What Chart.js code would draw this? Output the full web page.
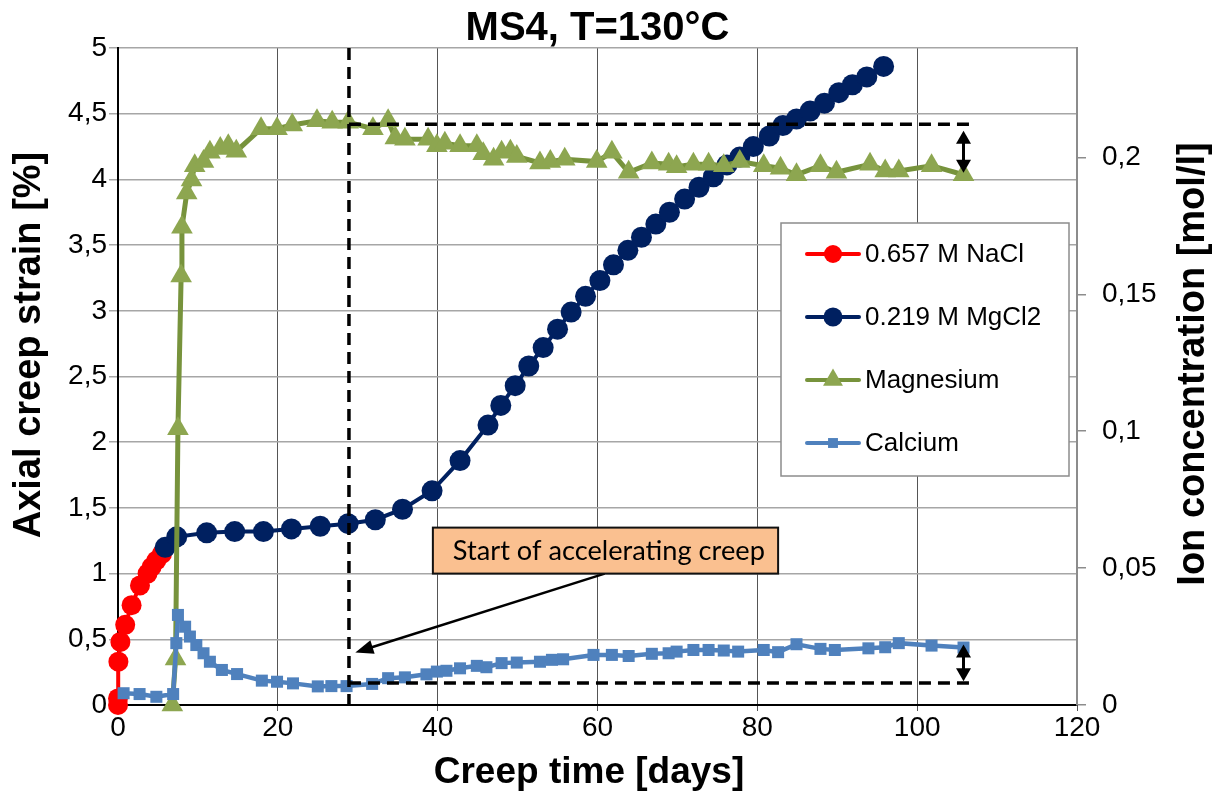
<!DOCTYPE html>
<html>
<head>
<meta charset="utf-8">
<script src="https://cdn.jsdelivr.net/npm/chart.js"></script>
<style>
  html, body { margin: 0; padding: 0; background: #fff; }
</style>
</head>
<body>
<canvas id="chart" width="1222" height="798"></canvas>
<script>
// ---- data ----
const naclDays   = [0, 0, 0.05, 0.3, 0.9, 1.7, 2.75, 3.7, 4.2, 4.8, 5.5];
const naclStrain = [0.0, 0.05, 0.33, 0.48, 0.61, 0.76, 0.91, 1.0, 1.05, 1.10, 1.15];

const mgcl2Days   = [5.9, 7.35, 11.1, 14.6, 18.2, 21.7, 25.3, 28.8, 32.2, 35.6, 39.3, 42.8, 46.3, 47.9, 49.7, 51.4, 53.2, 55.0, 56.7, 58.5,
                     60.3, 62.0, 63.8, 65.5, 67.3, 69.0, 70.9, 72.7, 74.5, 76.2, 77.8, 79.5, 81.5, 83.2, 84.9, 86.6, 88.4, 90.2, 91.9, 93.7, 95.8];
const mgcl2Strain = [1.20, 1.28, 1.31, 1.32, 1.32, 1.34, 1.36, 1.38, 1.41, 1.49, 1.63, 1.86, 2.13, 2.28, 2.43, 2.58, 2.72, 2.86, 2.99, 3.11,
                     3.23, 3.35, 3.46, 3.56, 3.66, 3.75, 3.85, 3.94, 4.02, 4.11, 4.17, 4.25, 4.33, 4.41, 4.46, 4.52, 4.58, 4.66, 4.72, 4.78, 4.86];

const magnesiumDays = [6.8, 7.2, 7.5, 7.9, 8.0, 8.6, 9.2, 9.6, 10.7, 11.5, 12.8, 13.8, 14.8, 17.9, 19.9, 21.8, 24.9, 26.8, 28.8, 31.9,
                       33.8, 34.7, 35.9, 38.8, 39.9, 40.9, 42.8, 44.9, 45.7, 47.0, 48.0, 49.1, 49.9, 52.8, 54.1, 55.9, 59.9, 61.8, 63.9, 66.8,
                       68.9, 69.9, 72.0, 73.9, 75.8, 77.8, 80.8, 82.9, 84.9, 87.9, 89.9, 94.1, 96.0, 97.7, 101.8, 105.8];
const magnesiumConc = [0, 0.0168, 0.1009, 0.1567, 0.1745, 0.187, 0.1918, 0.197, 0.1985, 0.2019, 0.2033, 0.2043, 0.2023, 0.2105, 0.2105, 0.2119, 0.2134, 0.2129, 0.2129, 0.2105,
                       0.2134, 0.2071, 0.2067, 0.2067, 0.2043, 0.2052, 0.2043, 0.2043, 0.2014, 0.1994, 0.2019, 0.2023, 0.2004, 0.198, 0.1985, 0.1994, 0.1985, 0.2019, 0.1946, 0.198,
                       0.1975, 0.1966, 0.1975, 0.1975, 0.197, 0.1985, 0.197, 0.1961, 0.1937, 0.197, 0.1946, 0.1975, 0.1951, 0.1951, 0.197, 0.1937];

const calciumDays = [0.7, 2.7, 4.8, 6.9, 7.3, 7.5, 8.4, 9.0, 9.8, 10.7, 11.5, 13.0, 14.9, 18.0, 19.9, 21.9, 25.0, 26.7, 28.6, 31.8,
                     33.8, 35.9, 38.6, 39.9, 41.1, 42.8, 44.9, 46.1, 48.0, 49.9, 52.8, 54.3, 55.7, 59.5, 61.8, 63.9, 66.8, 68.9, 69.9, 72.0,
                     73.9, 75.8, 77.6, 80.8, 82.6, 84.9, 87.9, 89.7, 93.9, 96.0, 97.7, 101.8, 105.8];
const calciumConc = [0.0043, 0.0040, 0.0030, 0.0040, 0.0226, 0.0329, 0.0286, 0.0250, 0.0219, 0.0189, 0.0158, 0.0128, 0.0113, 0.0089, 0.0085, 0.0079, 0.0068, 0.0069, 0.0069, 0.0077,
                     0.0098, 0.0101, 0.0112, 0.0122, 0.0125, 0.0134, 0.0143, 0.0138, 0.0153, 0.0155, 0.0158, 0.0165, 0.0167, 0.0183, 0.0183, 0.0179, 0.0187, 0.0189, 0.0195, 0.0201,
                     0.0201, 0.0199, 0.0195, 0.0201, 0.0193, 0.0222, 0.0205, 0.0201, 0.0207, 0.0211, 0.0226, 0.0217, 0.0210];

// annotation values (days / strain %)
const onsetDay = 28.9;
const dashEndDay = 107.3;
const mgLevel = 4.42;
const caLevel = 0.167;
const rangeDay = 105.8;
const mgRange = [4.37, 4.05];
const caRange = [0.46, 0.18];
const noteBox = {x1: 39.4, x2: 82.6, y1: 1.35, y2: 1.0};
const noteArrow = {x1: 60.9, y1: 1.0, x2: 29.7, y2: 0.40};
const noteText = 'Start of accelerating creep';

const chartTitle = 'MS4, T=130°C';
const leftTitle = 'Axial creep strain [%]';
const rightTitle = 'Ion concentration [mol/l]';
const bottomTitle = 'Creep time [days]';

function pts(xs, ys){
    return xs.map((v, i) => ({x: v, y: ys[i]}));
}
function comma(v){
    return String(Number(v.toFixed(3))).replace('.', ',');
}

const FONT = "'Liberation Sans', Arial, sans-serif";

/* --------------------------
   ARROWS / LINES / LEGEND
--------------------------- */
function arrowHead(ctx, x1, y1, x2, y2, len, half){
    const a = Math.atan2(y2 - y1, x2 - x1);
    ctx.beginPath();
    ctx.moveTo(x2, y2);
    ctx.lineTo(x2 - len * Math.cos(a) + half * Math.sin(a), y2 - len * Math.sin(a) - half * Math.cos(a));
    ctx.lineTo(x2 - len * Math.cos(a) - half * Math.sin(a), y2 - len * Math.sin(a) + half * Math.cos(a));
    ctx.closePath();
    ctx.fill();
}

function doubleArrow(ctx, px, ya, yb){
    ctx.lineWidth = 3;
    ctx.beginPath();
    ctx.moveTo(px, ya + 8);
    ctx.lineTo(px, yb - 8);
    ctx.stroke();
    arrowHead(ctx, px, yb, px, ya, 13, 7.5);
    arrowHead(ctx, px, ya, px, yb, 13, 7.5);
}

function marker(ctx, style, cx, cy, r, color){
    ctx.fillStyle = color;
    ctx.beginPath();
    if(style === 'circle'){
        ctx.arc(cx, cy, r, 0, Math.PI * 2);
    } else if(style === 'triangle'){
        ctx.moveTo(cx, cy - r);
        ctx.lineTo(cx + r * 0.866, cy + r * 0.5);
        ctx.lineTo(cx - r * 0.866, cy + r * 0.5);
        ctx.closePath();
    } else {
        const s = r * Math.SQRT1_2;
        ctx.rect(cx - s, cy - s, 2 * s, 2 * s);
    }
    ctx.fill();
}

function vText(ctx, text, cx, cy){
    ctx.save();
    ctx.translate(cx, cy);
    ctx.rotate(-Math.PI / 2);
    ctx.fillText(text, 0, 0);
    ctx.restore();
}

const overlay = {
    id: 'overlay',
    afterDatasetsDraw(chart){
        const ctx = chart.ctx, x = chart.scales.x, y = chart.scales.y, a = chart.chartArea;
        ctx.save();

        // dashed guide lines
        ctx.strokeStyle = '#000';
        ctx.lineWidth = 3.5;
        ctx.setLineDash([12, 7]);
        const xo = x.getPixelForValue(onsetDay), xe = x.getPixelForValue(dashEndDay);
        ctx.beginPath();
        ctx.moveTo(xo, a.top); ctx.lineTo(xo, a.bottom);
        ctx.moveTo(xo, y.getPixelForValue(mgLevel)); ctx.lineTo(xe, y.getPixelForValue(mgLevel));
        ctx.moveTo(xo, y.getPixelForValue(caLevel)); ctx.lineTo(xe, y.getPixelForValue(caLevel));
        ctx.stroke();
        ctx.setLineDash([]);

        // double arrows
        ctx.fillStyle = '#000';
        const xr = x.getPixelForValue(rangeDay);
        doubleArrow(ctx, xr, y.getPixelForValue(mgRange[0]), y.getPixelForValue(mgRange[1]));
        doubleArrow(ctx, xr, y.getPixelForValue(caRange[0]), y.getPixelForValue(caRange[1]));

        // note arrow
        const ax1 = x.getPixelForValue(noteArrow.x1), ay1 = y.getPixelForValue(noteArrow.y1);
        const ax2 = x.getPixelForValue(noteArrow.x2), ay2 = y.getPixelForValue(noteArrow.y2);
        ctx.lineWidth = 2.5;
        ctx.beginPath();
        ctx.moveTo(ax1, ay1);
        ctx.lineTo(ax2 + (ax1 - ax2) * 0.05, ay2 + (ay1 - ay2) * 0.05);
        ctx.stroke();
        arrowHead(ctx, ax1, ay1, ax2, ay2, 18, 7);

        // note box
        const bx1 = x.getPixelForValue(noteBox.x1), bx2 = x.getPixelForValue(noteBox.x2);
        const by1 = y.getPixelForValue(noteBox.y1), by2 = y.getPixelForValue(noteBox.y2);
        ctx.fillStyle = '#FAC090';
        ctx.fillRect(bx1, by1, bx2 - bx1, by2 - by1);
        ctx.strokeStyle = '#111';
        ctx.lineWidth = 2;
        ctx.strokeRect(bx1, by1, bx2 - bx1, by2 - by1);
        ctx.fillStyle = '#000';
        ctx.textBaseline = 'middle';
        ctx.textAlign = 'left';
        ctx.font = "25px Lato, 'Open Sans', sans-serif";
        const w = ctx.measureText(noteText).width;
        const size = 25 * 312 / w;
        ctx.font = size.toFixed(1) + "px Lato, 'Open Sans', sans-serif";
        ctx.fillText(noteText, bx1 + 20, (by1 + by2) / 2 + 1);

        // legend box
        const lx = 781, ly = 223, lw = 288, lh = 253;
        ctx.fillStyle = '#fff';
        ctx.fillRect(lx, ly, lw, lh);
        ctx.strokeStyle = '#8c8c8c';
        ctx.lineWidth = 1.5;
        ctx.strokeRect(lx, ly, lw, lh);
        ctx.font = '26px ' + FONT;
        chart.data.datasets.forEach((ds, i) => {
            const cy = ly + 31 + i * 63;
            ctx.strokeStyle = ds.borderColor;
            ctx.lineWidth = 4;
            ctx.lineCap = 'round';
            ctx.beginPath();
            ctx.moveTo(807, cy); ctx.lineTo(859, cy);
            ctx.stroke();
            marker(ctx, ds.pointStyle, 833, cy, ds.pointStyle === 'rect' ? 7 : ds.pointRadius - 1, ds.pointBackgroundColor);
            ctx.fillStyle = '#000';
            ctx.fillText(ds.label, 865, cy + 1);
        });

        // titles
        ctx.textAlign = 'center';
        ctx.font = 'bold 40px ' + FONT;
        ctx.fillText(chartTitle, (a.left + a.right) / 2, 29);
        ctx.font = 'bold 37px ' + FONT;
        ctx.fillText(bottomTitle, 589, 773);
        ctx.font = 'bold 38px ' + FONT;
        vText(ctx, leftTitle, 30, 345);
        vText(ctx, rightTitle, 1194, 364);

        ctx.restore();
    }
};

/* --------------------------
   CHART
--------------------------- */
new Chart(document.getElementById('chart'), {
    type: 'line',
    data: {
        datasets: [
            {
                label: '0.657 M NaCl', data: pts(naclDays, naclStrain), yAxisID: 'y', order: 4,
                borderColor: '#FF0000', backgroundColor: '#FF0000', pointBackgroundColor: '#FF0000', pointBorderWidth: 0,
                borderWidth: 4, pointStyle: 'circle', pointRadius: 10, clip: false
            },
            {
                label: '0.219 M MgCl2', data: pts(mgcl2Days, mgcl2Strain), yAxisID: 'y', order: 3,
                borderColor: '#002060', backgroundColor: '#002060', pointBackgroundColor: '#002060', pointBorderWidth: 0,
                borderWidth: 4, pointStyle: 'circle', pointRadius: 10.5, clip: false
            },
            {
                label: 'Magnesium', data: pts(magnesiumDays, magnesiumConc), yAxisID: 'y2', order: 2,
                borderColor: '#77933C', backgroundColor: '#8DA650', pointBackgroundColor: '#8DA650', pointBorderWidth: 0,
                borderWidth: 5, pointStyle: 'triangle', pointRadius: 12.5, clip: false
            },
            {
                label: 'Calcium', data: pts(calciumDays, calciumConc), yAxisID: 'y2', order: 1,
                borderColor: '#4F81BD', backgroundColor: '#4F81BD', pointBackgroundColor: '#4F81BD', pointBorderWidth: 0,
                borderWidth: 4.5, pointStyle: 'rect', pointRadius: 8.5, clip: false
            }
        ]
    },
    options: {
        responsive: false,
        animation: false,
        layout: { padding: { top: 48 } },
        plugins: {
            legend: { display: false },
            tooltip: { enabled: false },
            title: { display: false }
        },
        scales: {
            x: {
                type: 'linear', min: 0, max: 120,
                ticks: { stepSize: 20, color: '#000', padding: 0, font: { family: FONT, size: 28 } },
                grid: { color: '#555', lineWidth: 1, tickLength: 6 },
                border: { color: '#000', width: 2 },
                afterFit: s => { s.height = 93; }
            },
            y: {
                position: 'left', min: 0, max: 5,
                ticks: { stepSize: 0.5, color: '#000', padding: 2, font: { family: FONT, size: 28 }, callback: v => comma(v) },
                grid: { color: '#a6a6a6', lineWidth: 1.5, tickLength: 9 },
                border: { color: '#000', width: 2 },
                afterFit: s => { s.width = 118; }
            },
            y2: {
                position: 'right', min: 0, max: 0.24,
                ticks: { stepSize: 0.05, color: '#000', padding: 16, font: { family: FONT, size: 28 }, callback: v => comma(v) },
                afterBuildTicks: s => { s.ticks = s.ticks.filter(t => t.value <= 0.2001); },
                grid: { drawOnChartArea: false, color: '#8c8c8c', lineWidth: 1.5, tickLength: 9 },
                border: { color: '#8c8c8c', width: 2 },
                afterFit: s => { s.width = 145; }
            }
        }
    },
    plugins: [overlay]
});
</script>
</body>
</html>
